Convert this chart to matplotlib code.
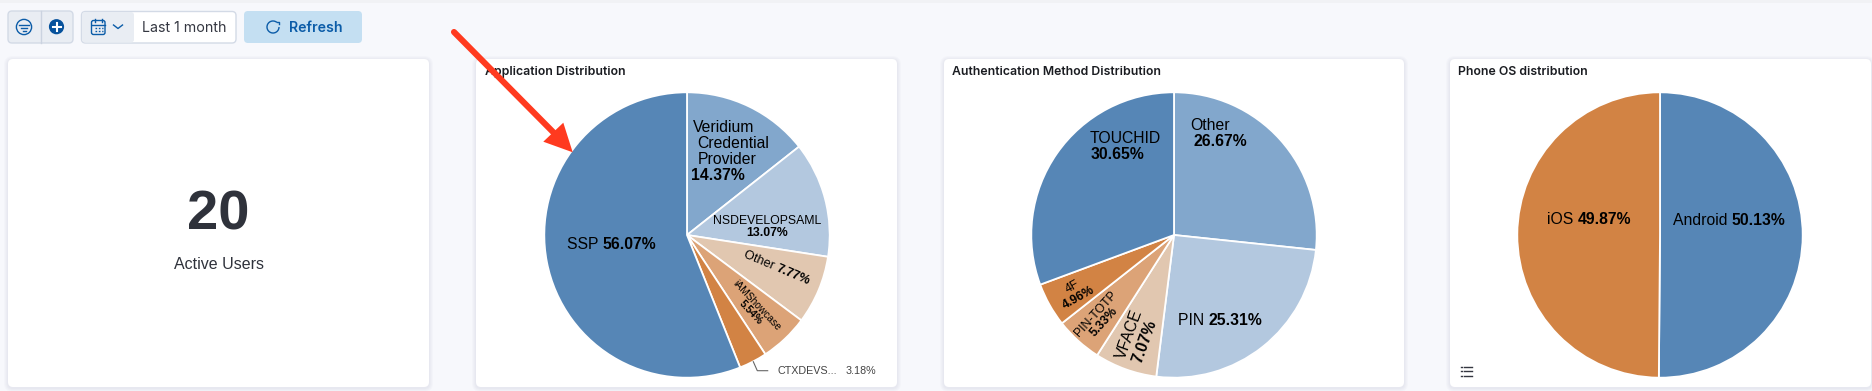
# plot.py
import numpy as np
import matplotlib
matplotlib.use("Agg")
import matplotlib.pyplot as plt
from matplotlib.patches import FancyBboxPatch, Circle, Polygon, Rectangle, Arc

W, H = 1872, 391

# Du lieu doc tu hinh
app_names = ["Veridium Credential Provider", "NSDEVELOPSAML", "Other", "iAMShowcase", "CTXDEVS...", "SSP"]
app_values = [14.37, 13.07, 7.77, 5.54, 3.18, 56.07]
auth_names = ["Other", "PIN", "VFACE", "PIN-TOTP", "4F", "TOUCHID"]
auth_values = [26.67, 25.31, 7.07, 5.33, 4.96, 30.65]
phone_names = ["Android", "iOS"]
phone_values = [50.13, 49.87]
panel_titles = ["Application Distribution", "Authentication Method Distribution", "Phone OS distribution"]
metric_value = "20"
metric_label = "Active Users"

BLUE_1, BLUE_2, BLUE_3 = "#5686B6", "#82A7CC", "#B3C8DF"
ORANGE_1, ORANGE_2, ORANGE_3 = "#E1C7B0", "#DCA377", "#D28344"
UI_BLUE = "#0B5CA8"
LABEL_FONT = ["Liberation Sans", "DejaVu Sans"]
UI_FONT = ["Inter", "DejaVu Sans"]

fig = plt.figure(figsize=(W / 100, H / 100), dpi=100, facecolor="#F7F8FC")
ax = fig.add_axes([0, 0, 1, 1])


def Y(y):
    return H - y


def px(size):
    return size * 0.72


def box(x0, y0, x1, y1, fc, ec="none", r=4, lw=1, z=1, alpha=1):
    p = FancyBboxPatch((x0 + r, Y(y1) + r), x1 - x0 - 2 * r, y1 - y0 - 2 * r,
                       boxstyle=f"round,pad={r},rounding_size={r}", fc=fc, ec=ec, lw=lw, zorder=z, alpha=alpha)
    ax.add_patch(p)


def card(x0, x1):
    # bong mo nhe quanh the
    for i in range(4, 0, -1):
        box(x0 - i, 59 - i + 1, x1 + i, 387 + i + 1, "#8A94A8", r=5 + i, z=1, alpha=0.035)
    box(x0, 59, x1, 387, "white", r=5, z=1.5)


def rich(x, y, parts, size, rot=0, center=False, color="black", font=LABEL_FONT):
    # ghi chu gom nhieu doan thuong/dam tren cung mot duong co so
    rend = fig.canvas.get_renderer()
    items = []
    total = 0
    for s, weight in parts:
        t = ax.text(0, 0, s, fontsize=px(size), fontweight=weight, family=font, color=color)
        w = t.get_window_extent(rend).width
        items.append((t, w))
        total += w
    th = np.deg2rad(rot)
    d = -total / 2 if center else 0
    for t, w in items:
        t.set_position((x + d * np.cos(th), Y(y) + d * np.sin(th)))
        t.set_rotation(rot)
        t.set_rotation_mode("anchor")
        t.set_ha("left")
        t.set_va("baseline")
        t.set_zorder(4)
        d += w


def pie(values, colors, cx):
    ax.pie(values, colors=colors, startangle=90, counterclock=False, center=(cx, Y(235)), radius=142.7,
           frame=True, wedgeprops=dict(edgecolor="white", linewidth=1.3, zorder=2))


# thanh tren cung
ax.add_patch(Rectangle((0, Y(3)), W, 3, fc="#F1F2F5", ec="none"))

# nhom nut loc
box(8, 11, 73, 43, "#E9EDF3", "#D3DAE6")
ax.plot([40.7, 40.7], [Y(11), Y(43)], color="#CBD3E0", lw=1, zorder=2)
ax.add_patch(Circle((24, Y(27)), 7.6, fc="none", ec=UI_BLUE, lw=1, zorder=3))
for y, half in [(24.5, 5), (27.5, 3.2), (30.5, 1.5)]:
    ax.plot([24 - half, 24 + half], [Y(y), Y(y)], color=UI_BLUE, lw=1, zorder=3)
ax.add_patch(Circle((56.5, Y(26.7)), 7.6, fc="#07529C", ec="none", zorder=3))
ax.plot([52.5, 60.5], [Y(26.7), Y(26.7)], color="white", lw=1.5, zorder=4)
ax.plot([56.5, 56.5], [Y(22.7), Y(30.7)], color="white", lw=1.5, zorder=4)

# chon thoi gian
box(81.5, 11.5, 236, 43, "white", "#D3DAE6")
box(82, 12, 134, 42.5, "#E9EDF3", r=3, z=1.2)
box(91.5, 20.5, 105, 34.5, "none", UI_BLUE, r=2, z=3)
ax.plot([91.5, 105], [Y(24.5), Y(24.5)], color=UI_BLUE, lw=1, zorder=3)
for cal_x in (95, 101.5):
    ax.plot([cal_x, cal_x], [Y(19), Y(22)], color=UI_BLUE, lw=1, zorder=3)
for cal_y in (27.5, 30.5):
    ax.plot([94.5, 102.5], [Y(cal_y), Y(cal_y)], color=UI_BLUE, lw=1, ls=(0, (1.2, 1.2)), zorder=3)
ax.plot([113.5, 118, 122.5], [Y(25), Y(28.5), Y(25)], color=UI_BLUE, lw=1, zorder=3)
rich(142.5, 32, [("Last 1 month", "normal")], 14.2, color="#343741", font=UI_FONT)

# nut Refresh
box(244, 11, 362, 43, "#C4DFF2")
ax.add_patch(Arc((273, Y(27)), 12, 12, theta1=50, theta2=360, ec=UI_BLUE, lw=1, zorder=3))
ax.plot([276.5, 279, 279], [Y(21.5), Y(21.5), Y(24)], color=UI_BLUE, lw=1, zorder=3)
rich(289.5, 32, [("Refresh", "semibold")], 14.2, color=UI_BLUE, font=UI_FONT)

# cac the
card(8, 429)
card(476, 897)
card(944, 1404)
card(1450, 1871)

# the so lieu
ax.text(218.5, Y(229.3), metric_value, ha="center", va="baseline", fontsize=px(56), fontweight="bold",
        family=LABEL_FONT, color="#2F323B", zorder=4)
ax.text(218.5, Y(269), metric_label, ha="center", va="baseline", fontsize=px(16), family=LABEL_FONT,
        color="#2F323B", zorder=4)

# tieu de
for title, tx in zip(panel_titles, [485, 952.5, 1458]):
    ax.text(tx, Y(75), title, ha="left", va="baseline", fontsize=px(12.3), fontweight="semibold",
            family=UI_FONT, color="#1A1C21", zorder=4)

# ba bieu do tron
pie(app_values, [BLUE_2, BLUE_3, ORANGE_1, ORANGE_2, ORANGE_3, BLUE_1], 687)
pie(auth_values, [BLUE_2, BLUE_3, ORANGE_1, ORANGE_2, ORANGE_3, BLUE_1], 1174)
pie(phone_values, [BLUE_1, ORANGE_3], 1660)


def pct(v):
    return f"{v:.2f}%"


# nhan bieu do 1
for word, lx, ly in zip(app_names[0].split(), [693, 697.7, 697.7], [132, 147.7, 163.7]):
    rich(lx, ly, [(word, "normal")], 15.7)
rich(690.7, 180, [(pct(app_values[0]), "bold")], 15.7)
rich(767, 224, [(app_names[1], "normal")], 12.2, center=True)
rich(767, 236, [(pct(app_values[1]), "bold")], 12.2, center=True)
rich(743.3, 257.3, [(app_names[2] + " ", "normal"), (pct(app_values[2]), "bold")], 12.6, rot=-22.8)
rich(754.5, 308, [(app_names[3], "normal")], 10.2, rot=-46.7, center=True)
rich(748.5, 315, [(pct(app_values[3]), "bold")], 10.2, rot=-46.7, center=True)
rich(566.7, 249, [(app_names[5] + " ", "normal"), (pct(app_values[5]), "bold")], 15.7)

# duong dan cho lat nho
ax.plot([753.3, 757.3, 767.7], [Y(361.7), Y(370.7), Y(370.7)], color="#666666", lw=0.8, zorder=3)
rich(777.7, 374, [(app_names[4], "normal")], 10.8, color="#444444")
rich(846, 374, [(pct(app_values[4]), "normal")], 10.8, color="#444444")

# nhan bieu do 2
rich(1190, 130, [(auth_names[0], "normal")], 15.7)
rich(1193.3, 146, [(pct(auth_values[0]), "bold")], 15.7)
rich(1177.7, 325, [(auth_names[1] + " ", "normal"), (pct(auth_values[1]), "bold")], 15.7)
rich(1133.7, 336, [(auth_names[2], "normal")], 15.7, rot=70.1, center=True)
rich(1149.3, 342.7, [(pct(auth_values[2]), "bold")], 15.7, rot=70.1, center=True)
rich(1098.3, 315.7, [(auth_names[3], "normal")], 12.2, rot=47.8, center=True)
rich(1106.7, 323.7, [(pct(auth_values[3]), "bold")], 12.2, rot=47.8, center=True)
rich(1073.7, 289.7, [(auth_names[4], "normal")], 12.2, rot=29.3, center=True)
rich(1079.7, 300.3, [(pct(auth_values[4]), "bold")], 12.2, rot=29.3, center=True)
rich(1090, 143.3, [(auth_names[5], "normal")], 15.7)
rich(1091, 159, [(pct(auth_values[5]), "bold")], 15.7)

# nhan bieu do 3
rich(1672.7, 225, [(phone_names[0] + " ", "normal"), (pct(phone_values[0]), "bold")], 15.7)
rich(1546.7, 224, [(phone_names[1] + " ", "normal"), (pct(phone_values[1]), "bold")], 15.7)

# bieu tuong danh sach
for ly in (366.5, 371, 375.5):
    ax.plot([1460.5, 1462], [Y(ly), Y(ly)], color="#343741", lw=1, zorder=4)
    ax.plot([1464, 1472], [Y(ly), Y(ly)], color="#343741", lw=1, zorder=4)

# mui ten do ve them len anh chup
ax.plot([454, 556], [Y(32), Y(135)], color="#FF3A1F", lw=4.4, solid_capstyle="round", zorder=5)
ax.add_patch(Polygon([(572.7, Y(152.3)), (543.3, Y(141.7)), (563.3, Y(122.7))], closed=True,
                     fc="#FF3A1F", ec="none", zorder=5))

ax.set_xlim(0, W)
ax.set_ylim(0, H)
ax.set_aspect("auto")
ax.axis("off")

fig.savefig("out.png", dpi=100, facecolor=fig.get_facecolor())
